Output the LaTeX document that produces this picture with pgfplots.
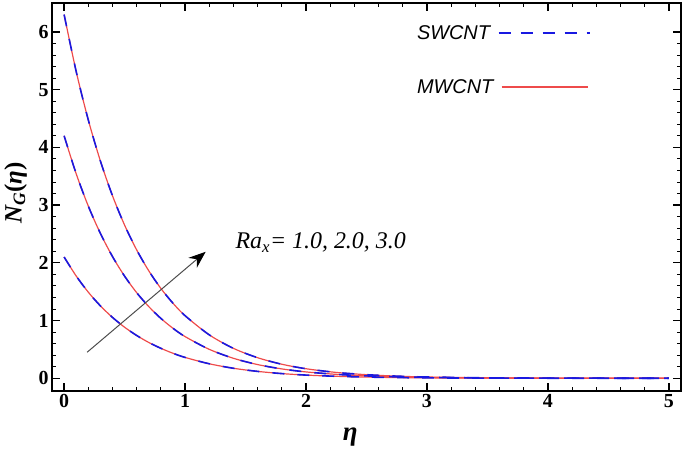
\documentclass[border=0pt]{standalone}
\usepackage{pgfplots}
\pgfplotsset{compat=1.18}
\usepackage{pgfplotstable}
\usepackage{fontspec}
\setmainfont{Liberation Serif}
\setsansfont{Liberation Sans}
\usetikzlibrary{arrows.meta}
\definecolor{myred}{RGB}{238,75,75}
\definecolor{myblue}{RGB}{25,25,225}

\pgfplotstableread{
eta a b c
0.0 2.100 4.200 6.300
0.1 1.771 3.541 5.312
0.2 1.491 2.982 4.474
0.3 1.254 2.509 3.763
0.4 1.054 2.108 3.161
0.5 0.884 1.769 2.653
0.6 0.741 1.482 2.223
0.7 0.620 1.241 1.861
0.8 0.519 1.037 1.556
0.9 0.433 0.866 1.300
1.0 0.361 0.722 1.084
1.2 0.251 0.501 0.752
1.4 0.173 0.346 0.518
1.6 0.119 0.237 0.356
1.8 0.081 0.162 0.243
2.0 0.055 0.110 0.165
2.25 0.034 0.068 0.101
2.5 0.021 0.041 0.062
2.75 0.012 0.025 0.037
3.0 0.007 0.015 0.022
3.5 0.003 0.005 0.008
4.0 0.001 0.002 0.003
4.5 0.000 0.001 0.001
5.0 0.000 0.000 0.000
}\datatab

\begin{document}
\begin{tikzpicture}
\begin{axis}[
  scale only axis, width=629bp, height=388bp,
  xmin=-0.1, xmax=5.1, ymin=-0.22, ymax=6.5,
  xtick={0,1,2,3,4,5}, ytick={0,1,2,3,4,5,6},
  minor x tick num=4, minor y tick num=4,
  tick align=inside, major tick length=8bp, minor tick length=4bp,
  major tick style={black, line width=1.3pt},
  minor tick style={black, line width=0.9pt},
  axis line style={line width=1.6pt},
  ticklabel style={font=\fontsize{20}{22}\selectfont\bfseries},
  /pgf/number format/assume math mode=true,
  every axis x label/.style={at={(axis description cs:0.474,-0.12)},anchor=center},
  every axis y label/.style={at={(axis description cs:-0.058,0.51)},anchor=center,rotate=90},
  xlabel={\fontsize{27}{29}\selectfont\bfseries\itshape η},
  ylabel={\fontsize{25}{27}\selectfont\bfseries\itshape N\textsubscript{G}\upshape(\itshape η\upshape)},
  clip mode=individual,
]
\addplot[myred, line width=1.2pt, smooth] table[x=eta,y=a]{\datatab};
\addplot[myred, line width=1.2pt, smooth] table[x=eta,y=b]{\datatab};
\addplot[myred, line width=1.2pt, smooth] table[x=eta,y=c]{\datatab};
\addplot[myblue, line width=1.6pt, smooth, dash pattern=on 12bp off 13bp] table[x=eta,y=a]{\datatab};
\addplot[myblue, line width=1.6pt, smooth, dash pattern=on 12bp off 13bp] table[x=eta,y=b]{\datatab};
\addplot[myblue, line width=1.6pt, smooth, dash pattern=on 12bp off 13bp] table[x=eta,y=c]{\datatab};
% legend (drawn by hand)
\node[anchor=west, inner sep=0pt, font=\fontsize{20}{22}\selectfont\sffamily\itshape] at (axis description cs:0.580,0.9227) {SWCNT};
\draw[myblue, line width=1.6pt, dash pattern=on 12bp off 10bp] (axis description cs:0.710,0.9227) -- (axis description cs:0.855,0.9227);
\node[anchor=west, inner sep=0pt, font=\fontsize{20}{22}\selectfont\sffamily\itshape] at (axis description cs:0.580,0.7835) {MWCNT};
\draw[myred, line width=1.5pt] (axis description cs:0.715,0.7835) -- (axis description cs:0.852,0.7835);
% annotation
\draw[gray!60!black, line width=1pt, -{Stealth[length=17bp,width=13bp,black]}] (axis cs:0.19,0.45) -- (axis cs:1.17,2.19);
\node[anchor=base west, inner sep=0pt, font=\fontsize{24}{26}\selectfont\itshape] at (axis cs:1.416,2.24) {Ra\textsubscript{x}= 1.0, 2.0, 3.0};
\coordinate (bl) at (axis description cs:-0.0827,-0.1657);
\coordinate (tr) at (axis description cs:1.0064,1.0077);
\end{axis}
\pgfresetboundingbox
\path (bl) rectangle (tr);
\end{tikzpicture}
\end{document}
